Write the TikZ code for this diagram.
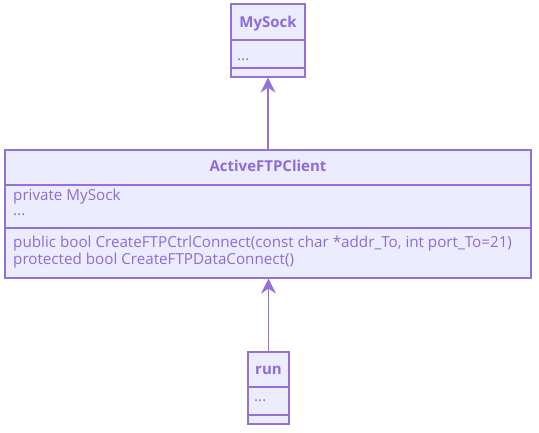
\documentclass[tikz,border=0pt]{standalone}
\usepackage{fontspec}
\setmainfont{Open Sans}
\usetikzlibrary{arrows.meta}
\definecolor{umlstroke}{HTML}{9370DB}
\definecolor{umlfill}{HTML}{ECECFF}
\definecolor{umltext}{HTML}{8F6BD8}
\begin{document}
\begin{tikzpicture}[x=1pt,y=-1pt,
  classbox/.style={draw=umlstroke, fill=umlfill, line width=1.2pt, inner sep=0pt},
  divider/.style={draw=umlstroke, line width=1.2pt},
  title/.style={text=umltext, font=\fontsize{15}{16}\selectfont\bfseries, inner sep=0pt, anchor=base},
  member/.style={text=umltext, font=\fontsize{15.2}{13}\selectfont, inner sep=0pt, anchor=base west, align=left},
  inherit/.style={draw=umlstroke, line width=1.2pt, -{Stealth[length=15pt, width=15pt, inset=5pt]}}]
\useasboundingbox (0,0) rectangle (539,433);
% MySock
\node[classbox, minimum width=74pt, minimum height=73pt] (mysock) at (268,40.5) {};
\draw[divider] (231,40) -- (305,40);
\draw[divider] (231,68) -- (305,68);
\node[title] (mysockT) at (268,28) {MySock};
\node[member] (mysockA) at (237,61) {...};
% ActiveFTPClient
\node[classbox, minimum width=526pt, minimum height=128pt] (afc) at (268,214) {};
\draw[divider] (5,185) -- (531,185);
\draw[divider] (5,228) -- (531,228);
\node[title] (afcT) at (268,172) {ActiveFTPClient};
\node[member, font=\fontsize{15.2}{14.5}\selectfont] (afcA) at (13,215.5) {private MySock\\...};
\node[member, font=\fontsize{15.2}{13.4}\selectfont] (afcM) at (13,264.2) {public bool CreateFTPCtrlConnect(const char *addr\_To, int port\_To=21)\\protected bool CreateFTPDataConnect()};
% run
\node[classbox, minimum width=41pt, minimum height=72pt] (run) at (268.5,388) {};
\draw[divider] (248,387) -- (289,387);
\draw[divider] (248,415) -- (289,415);
\node[title] (runT) at (268.5,374) {run};
\node[member] (runA) at (254,401) {...};
% connectors
\draw[inherit] (afc.north -| mysock.south) -- (mysock.south);
\draw[inherit] (run.north) -- (run.north |- afc.south);
\end{tikzpicture}
\end{document}
